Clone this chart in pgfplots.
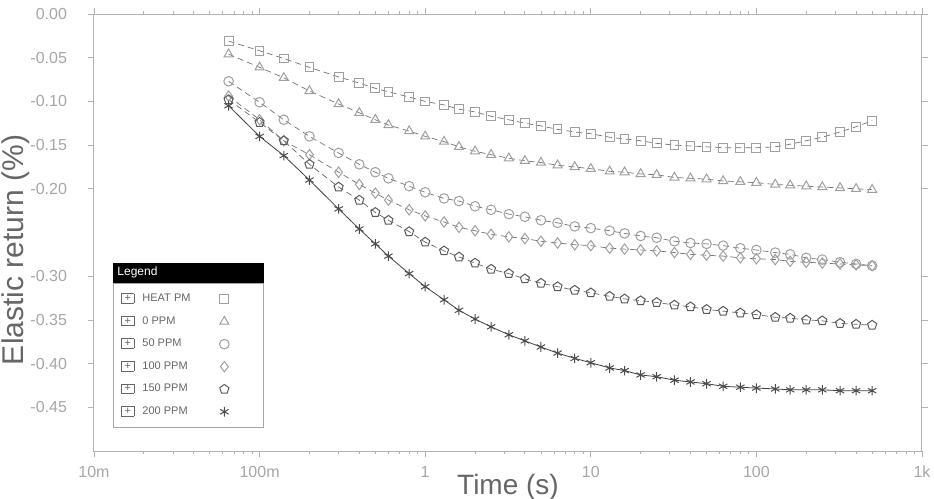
\documentclass[border=0pt]{standalone}
\usepackage{pgfplots}
\pgfplotsset{compat=1.18}
\usepackage{pgfplotstable}
\usepackage{fontspec}
\setmainfont{Liberation Sans}
\usetikzlibrary{calc}
\pgfplotstableread{
x      s1      s2      s3      s4      s5      s6
0.065 -0.031 -0.046 -0.077 -0.094 -0.098 -0.105
0.1   -0.042 -0.061 -0.101 -0.121 -0.124 -0.140
0.14  -0.051 -0.073 -0.121 -0.145 -0.145 -0.162
0.2   -0.061 -0.088 -0.140 -0.161 -0.172 -0.190
0.3   -0.072 -0.103 -0.159 -0.181 -0.198 -0.223
0.4   -0.079 -0.113 -0.172 -0.195 -0.213 -0.246
0.5   -0.085 -0.121 -0.181 -0.205 -0.227 -0.263
0.6   -0.089 -0.127 -0.188 -0.213 -0.236 -0.277
0.8   -0.095 -0.134 -0.197 -0.224 -0.249 -0.297
1     -0.100 -0.140 -0.204 -0.231 -0.261 -0.312
1.3   -0.104 -0.146 -0.211 -0.238 -0.271 -0.327
1.6   -0.109 -0.152 -0.214 -0.244 -0.278 -0.339
2     -0.112 -0.157 -0.220 -0.248 -0.285 -0.349
2.5   -0.117 -0.161 -0.224 -0.252 -0.292 -0.358
3.2   -0.121 -0.165 -0.229 -0.255 -0.297 -0.367
4     -0.125 -0.168 -0.232 -0.257 -0.303 -0.374
5     -0.128 -0.170 -0.236 -0.260 -0.308 -0.381
6.3   -0.132 -0.173 -0.239 -0.262 -0.312 -0.388
8     -0.135 -0.175 -0.243 -0.264 -0.316 -0.394
10    -0.137 -0.177 -0.245 -0.265 -0.319 -0.399
13    -0.141 -0.180 -0.248 -0.268 -0.323 -0.405
16    -0.143 -0.181 -0.251 -0.269 -0.326 -0.408
20    -0.145 -0.183 -0.254 -0.270 -0.328 -0.413
25    -0.148 -0.184 -0.256 -0.271 -0.330 -0.415
32    -0.150 -0.187 -0.260 -0.273 -0.333 -0.419
40    -0.151 -0.188 -0.262 -0.275 -0.335 -0.421
50    -0.152 -0.189 -0.263 -0.276 -0.338 -0.423
63    -0.153 -0.191 -0.265 -0.277 -0.340 -0.426
80    -0.153 -0.192 -0.268 -0.279 -0.342 -0.427
100   -0.153 -0.193 -0.270 -0.280 -0.344 -0.428
130   -0.152 -0.195 -0.273 -0.281 -0.347 -0.429
160   -0.149 -0.196 -0.275 -0.283 -0.348 -0.430
200   -0.145 -0.197 -0.279 -0.284 -0.350 -0.430
250   -0.141 -0.198 -0.281 -0.285 -0.351 -0.430
320   -0.135 -0.199 -0.284 -0.286 -0.354 -0.431
400   -0.129 -0.200 -0.286 -0.287 -0.355 -0.431
500   -0.122 -0.201 -0.288 -0.288 -0.356 -0.431
}\datatable
\newcommand{\lentry}[1]{\makebox[45pt][l]{{\fboxsep=0.6pt\fboxrule=0.4pt\fbox{\makebox[4.5pt]{+}}}\hspace{4pt}#1}}
\begin{document}
\begin{tikzpicture}
\path[use as bounding box] (-47pt,-24pt) rectangle (420pt,225.5pt);
\begin{axis}[
  at={(0,0)}, anchor=south west,
  scale only axis, width=414pt, height=218.5pt,
  xmode=log, xmin=0.01, xmax=1000,
  ymin=-0.5, ymax=0,
  xtick={0.01,0.1,1,10,100,1000},
  xticklabels={10m,100m,1,10,100,1k},
  ytick={0,-0.05,-0.1,-0.15,-0.2,-0.3,-0.35,-0.4,-0.45},
  yticklabels={0.00,-0.05,-0.10,-0.15,-0.20,-0.30,-0.35,-0.40,-0.45},
  minor y tick num=1,
  tick align=outside,
  major tick length=3pt, minor tick length=1.5pt,
  axis line style={gray!60, line width=0.5pt},
  tick style={gray!60, line width=0.4pt},
  ticklabel style={font=\fontsize{8}{9}\selectfont, text=gray!70},
  yticklabel style={xshift=-7pt},
  xticklabel style={yshift=-1pt},
  xlabel={Time (s)},
  ylabel={Elastic return (\%)},
  xlabel style={font=\fontsize{14}{16}\selectfont, text=gray!80!black, at={(axis description cs:0.5,-0.082)}, anchor=center},
  ylabel style={font=\fontsize{15}{17}\selectfont, text=gray!80!black, at={(axis description cs:-0.095,0.46)}, anchor=center},
  legend cell align=left,
  legend plot pos=right,
  legend style={name=leg, at={(axis description cs:0.023,0.053)}, anchor=south west,
    font=\fontsize{5.5}{6.5}\selectfont, text=gray!80!black, draw=gray!70, row sep=1.6pt,
    inner xsep=2pt, inner ysep=3pt},
  legend image code/.code={\draw plot coordinates {(0.15cm,0cm)}; \path (0cm,0cm) (0.75cm,0cm);},
]
\addplot[densely dashed, black!55, line width=0.35pt, mark=square, mark size=2.2pt, mark options={solid, draw=gray!75, line width=0.5pt}] table[x=x,y=s1] {\datatable};
\addlegendentry{\lentry{HEAT PM}}
\addplot[densely dashed, black!55, line width=0.35pt, mark=triangle, mark size=2.6pt, mark options={solid, draw=gray!75, line width=0.5pt}] table[x=x,y=s2] {\datatable};
\addlegendentry{\lentry{0 PPM}}
\addplot[densely dashed, black!55, line width=0.35pt, mark=o, mark size=2.4pt, mark options={solid, draw=gray!75, line width=0.5pt}] table[x=x,y=s3] {\datatable};
\addlegendentry{\lentry{50 PPM}}
\addplot[densely dashed, black!55, line width=0.35pt, mark=diamond, mark size=2.6pt, mark options={solid, draw=gray!75, line width=0.5pt}] table[x=x,y=s4] {\datatable};
\addlegendentry{\lentry{100 PPM}}
\addplot[densely dashed, black!60, line width=0.35pt, mark=pentagon, mark size=2.4pt, mark options={solid, draw=gray!70!black, line width=0.5pt}] table[x=x,y=s5] {\datatable};
\addlegendentry{\lentry{150 PPM}}
\addplot[solid, black!75, line width=0.4pt, mark=asterisk, mark size=2.4pt, mark options={solid, draw=black!70, line width=0.5pt}] table[x=x,y=s6] {\datatable};
\addlegendentry{\lentry{200 PPM}}
\end{axis}
\path let \p1=(leg.north west), \p2=(leg.north east) in
  node[fill=black, text=white, anchor=south west, inner sep=2pt, minimum height=10pt,
       text width=\x2-\x1-4pt, align=left, font=\fontsize{6}{7}\selectfont]
  at (leg.north west) {Legend};
\end{tikzpicture}
\end{document}
